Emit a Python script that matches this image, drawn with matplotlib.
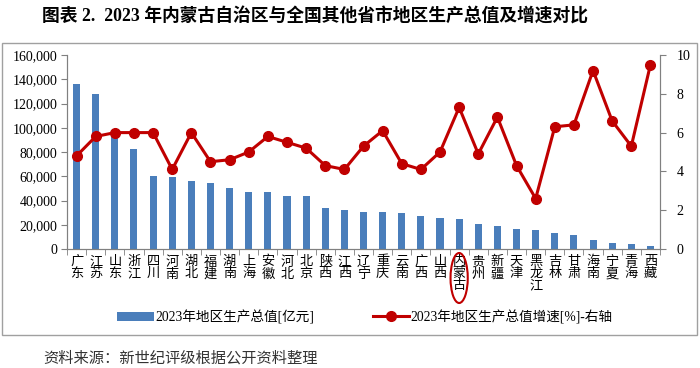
import matplotlib
matplotlib.use("Agg")
import matplotlib.pyplot as plt
import matplotlib.transforms as mtransforms
from matplotlib.patches import Ellipse, Rectangle
from matplotlib.ticker import FuncFormatter, FixedLocator

plt.rcParams['font.family'] = ['Liberation Serif', 'Noto Sans CJK SC']

# provinces, 2023 GDP (100 million yuan) and growth (%)
provinces = ["广东", "江苏", "山东", "浙江", "四川", "河南", "湖北", "福建", "湖南", "上海",
             "安徽", "河北", "北京", "陕西", "江西", "辽宁", "重庆", "云南", "广西", "山西",
             "内蒙古", "贵州", "新疆", "天津", "黑龙江", "吉林", "甘肃", "海南", "宁夏", "青海", "西藏"]
gdp = [135673, 128222, 92069, 82553, 60133, 59132, 55804, 54355, 50013, 47219,
       47051, 43944, 43761, 33786, 32200, 30209, 30146, 30021, 27202, 25698,
       24627, 20913, 19126, 16737, 15884, 13531, 11864, 7551, 5315, 3799, 2393]
growth = [4.8, 5.8, 6.0, 6.0, 6.0, 4.1, 6.0, 4.5, 4.6, 5.0,
          5.8, 5.5, 5.2, 4.3, 4.1, 5.3, 6.1, 4.4, 4.1, 5.0,
          7.3, 4.9, 6.8, 4.3, 2.6, 6.3, 6.4, 9.2, 6.6, 5.3, 9.5]

bar_label = "2023年地区生产总值[亿元]"
line_label = "2023年地区生产总值增速[%]-右轴"
title = "图表 2.  2023 年内蒙古自治区与全国其他省市地区生产总值及增速对比"
source = "资料来源：新世纪评级根据公开资料整理"

W, H = 700, 368
fig = plt.figure(figsize=(7, 3.68), dpi=100)
ax = fig.add_axes([67 / W, 1 - 249 / H, (660 - 67) / W, (249 - 55) / H])

x = list(range(len(provinces)))
bars = ax.bar(x, gdp, width=0.37, color="#4a7ebb", label=bar_label, zorder=2)
ax.set_xlim(-0.5, len(provinces) - 0.5)
ax.set_ylim(0, 160000)
ax.set_yticks(range(0, 160001, 20000))
ax.yaxis.set_major_formatter(FuncFormatter(lambda v, p: f"{int(v):,}"))

ax.set_xticks(x)
ax.set_xticklabels(["\n".join(p) for p in provinces], fontsize=9.5, linespacing=1.0, va="top")
ax.tick_params(axis="x", length=0, pad=5)
ax.xaxis.set_minor_locator(FixedLocator([i - 0.5 for i in range(len(provinces) + 1)]))
ax.tick_params(axis="x", which="minor", length=4, direction="out", color="#808080")
ax.tick_params(axis="y", labelsize=10, length=4, color="#808080", pad=3)

ax2 = ax.twinx()
ln, = ax2.plot(x, growth, color="#c00000", lw=2.2, marker="o", markersize=7, label=line_label)
ax2.set_ylim(0, 10)
ax2.set_yticks(range(0, 11, 2))
ax2.tick_params(axis="y", labelsize=10, length=4, color="#808080", pad=8)

for a in (ax, ax2):
    a.spines["top"].set_visible(False)
    for s in ("left", "right", "bottom"):
        a.spines[s].set_color("#808080")
        a.spines[s].set_linewidth(0.8)

# red circle around Inner Mongolia label
trans = mtransforms.blended_transform_factory(ax.transData, fig.transFigure)
ell = Ellipse((provinces.index("内蒙古"), 1 - 278 / H), 0.9, 50 / H, transform=trans,
              fill=False, edgecolor="#c00000", lw=1.5, clip_on=False)
fig.add_artist(ell)

leg = fig.legend(handles=[bars, ln], loc="center", bbox_to_anchor=(365 / W, 1 - 317 / H),
                 ncol=2, frameon=False, fontsize=9.8, handlelength=2.7, handletextpad=0.1,
                 columnspacing=4.3)

# outer frame
fig.add_artist(Rectangle((2 / W, 1 - 335 / H), 695 / W, (335 - 43) / H, transform=fig.transFigure,
                         fill=False, edgecolor="#a0a0a0", lw=1.0))

fig.text(42 / W, 1 - 17 / H, title, fontsize=12.8, fontweight="bold", va="center", ha="left")
fig.text(43 / W, 1 - 358 / H, source, fontsize=11, color="#333333", va="center", ha="left")

fig.savefig("out.png", dpi=100)
